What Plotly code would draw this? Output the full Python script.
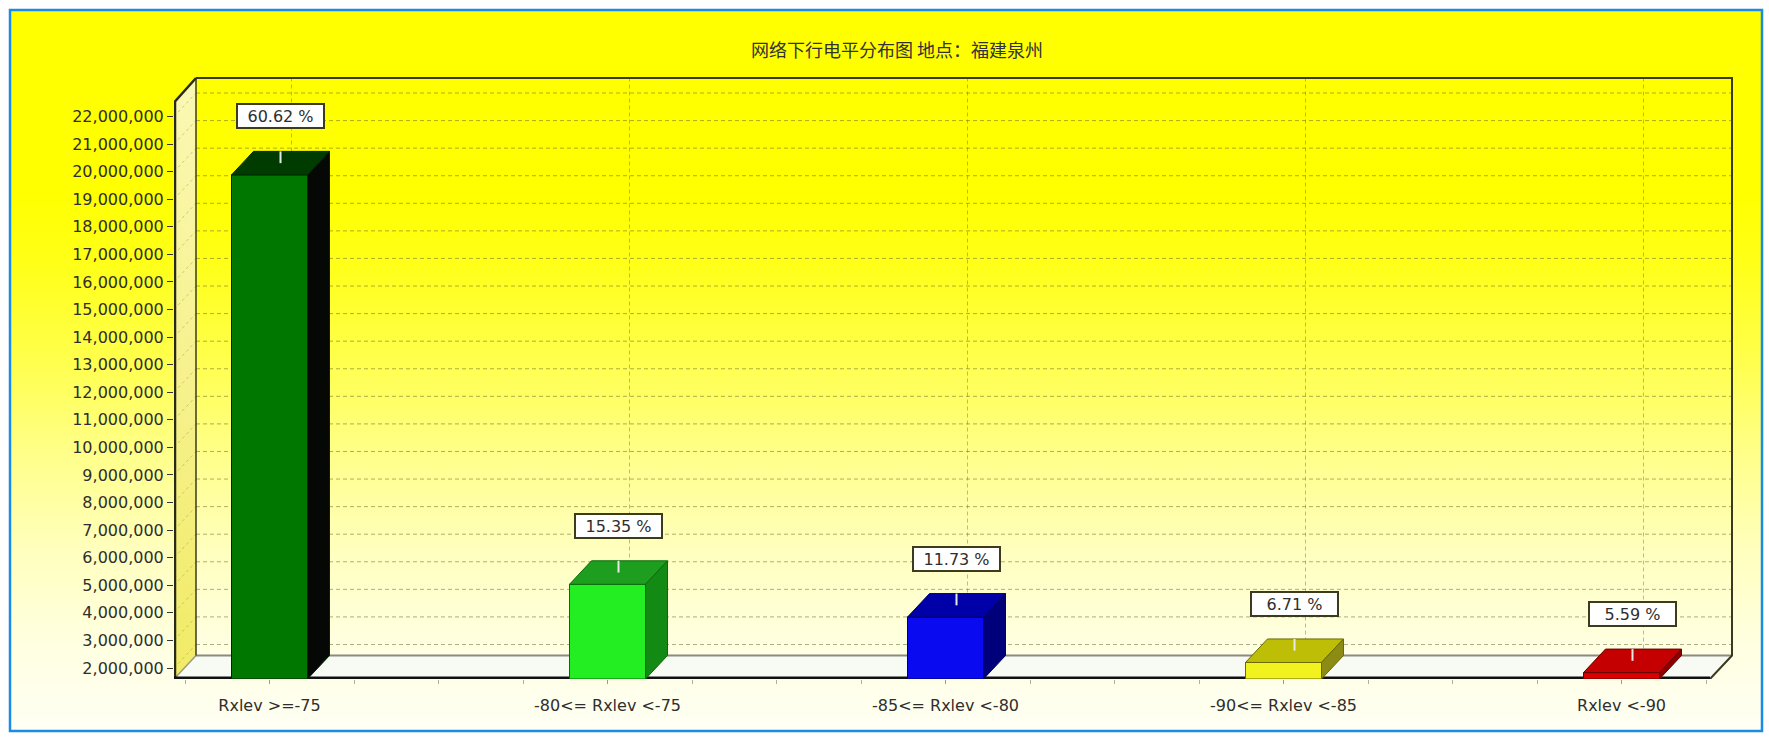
import base64
import struct
import zlib

import plotly.graph_objects as go

# ---- data -----------------------------------------------------------------
TITLE = "网络下行电平分布图 地点：福建泉州"
CATEGORIES = ["Rxlev >=-75", "-80<= Rxlev <-75", "-85<= Rxlev <-80",
              "-90<= Rxlev <-85", "Rxlev <-90"]
SAMPLE_COUNTS = [19883000, 5035000, 3847000, 2201000, 1834000]
Y_TICKS = [2000000, 3000000, 4000000, 5000000, 6000000, 7000000, 8000000,
           9000000, 10000000, 11000000, 12000000, 13000000, 14000000,
           15000000, 16000000, 17000000, 18000000, 19000000, 20000000,
           21000000, 22000000]

# ---- styles ---------------------------------------------------------------
FRONT_COLORS = ["#007800", "#22EE22", "#0A0AF0", "#F2F21E", "#D80000"]
TOP_COLORS = ["#003C00", "#1E9E1E", "#0000A8", "#BEBE06", "#C40000"]
SIDE_COLORS = ["#060806", "#138A13", "#00007A", "#8C8C14", "#8C0000"]
EDGE_COLORS = ["#002800", "#0A6A0A", "#000060", "#6A6A00", "#6A0000"]
TEXT_COLOR = "#2e2e2e"
GRID_COLOR = "rgba(110,110,40,0.55)"
FRAME_COLOR = "#3a3a22"

W, H = 1769, 741

# pixel geometry of the 3-D box
BOX_LEFT_PX, BOX_RIGHT_PX = 174, 1732
BOX_TOP_PX, FLOOR_PX = 78, 679
DEPTH_X_PX, DEPTH_Y_PX = 22, 23.5
CAT_PITCH_PX, CAT0_PX = 338, 269.5
PX_PER_MILLION, REF_VALUE, REF_PX = 27.575, 2_000_000, 668
BAR_WIDTH_PX = 76
PAD = 3


def x_of(px):
    return (px - CAT0_PX) / CAT_PITCH_PX


def y_of(py):
    return REF_VALUE + (REF_PX - py) / PX_PER_MILLION * 1e6


XL, XR = x_of(BOX_LEFT_PX), x_of(BOX_RIGHT_PX)
YB, YT = y_of(FLOOR_PX), y_of(BOX_TOP_PX)
DX = DEPTH_X_PX / CAT_PITCH_PX
DY = DEPTH_Y_PX / PX_PER_MILLION * 1e6
BW = BAR_WIDTH_PX / CAT_PITCH_PX


def gradient_png(stops, height=256):
    """1-px wide vertical gradient PNG as a data URI."""
    raw = bytearray()
    for j in range(height):
        t = j / (height - 1)
        for k in range(len(stops) - 1):
            t0, c0 = stops[k]
            t1, c1 = stops[k + 1]
            if t0 <= t <= t1:
                f = 0 if t1 == t0 else (t - t0) / (t1 - t0)
                rgb = [round(a + (b - a) * f) for a, b in zip(c0, c1)]
                break
        raw += b"\x00" + bytes(rgb)

    def chunk(tag, data):
        return (struct.pack(">I", len(data)) + tag + data
                + struct.pack(">I", zlib.crc32(tag + data) & 0xFFFFFFFF))

    png = (b"\x89PNG\r\n\x1a\n"
           + chunk(b"IHDR", struct.pack(">IIBBBBB", 1, height, 8, 2, 0, 0, 0))
           + chunk(b"IDAT", zlib.compress(bytes(raw), 9))
           + chunk(b"IEND", b""))
    return "data:image/png;base64," + base64.b64encode(png).decode()


BG_STOPS = [(0.0, (255, 255, 0)), (0.25, (255, 255, 0)), (0.35, (255, 255, 25)),
            (0.48, (255, 255, 75)), (0.62, (255, 255, 140)),
            (0.75, (255, 255, 190)), (0.88, (255, 255, 225)),
            (1.0, (255, 255, 244))]

fig = go.Figure()


def poly(xs, ys, fill, line_color=None, line_width=0, **kw):
    fig.add_trace(go.Scatter(
        x=xs + [xs[0]], y=ys + [ys[0]], mode="lines", fill="toself",
        fillcolor=fill, hoverinfo="skip",
        line=dict(color=line_color or fill, width=line_width), **kw))


def lines(xs, ys, color, width, dash="solid"):
    fig.add_trace(go.Scatter(x=xs, y=ys, mode="lines", hoverinfo="skip",
                             line=dict(color=color, width=width, dash=dash)))


# left side wall
fig.add_trace(go.Scatter(
    x=[XL, XL, XL + DX, XL + DX, XL], y=[YB, YT - DY, YT, YB + DY, YB],
    mode="lines", fill="toself", hoverinfo="skip", line=dict(width=0),
    fillgradient=dict(type="vertical", start=YB, stop=YT,
                      colorscale=[[0, "#F1EB66"], [1, "#FBF8B4"]])))

# floor
poly([XL, XR - DX, XR, XL + DX], [YB, YB, YB + DY, YB + DY], "#F8FAF4")

# grid on back wall and side wall
gx, gy, sx, sy = [], [], [], []
for v in Y_TICKS:
    gx += [XL + DX, XR, None]
    gy += [v + DY, v + DY, None]
    sx += [XL, XL + DX, None]
    sy += [v, v + DY, None]
lines(gx, gy, GRID_COLOR, 1, "4px,3px")
lines(sx, sy, "rgba(150,150,60,0.45)", 1, "3px,3px")
vx, vy = [], []
for i in range(len(CATEGORIES)):
    vx += [i + DX, i + DX, None]
    vy += [YB + DY, YT, None]
lines(vx, vy, "rgba(110,110,40,0.45)", 1, "4px,3px")

# frame
lines([XL + DX, XR], [YB + DY, YB + DY], "#8a8a80", 2)
lines([XL, XL + DX], [YB, YB + DY], "#9a9a80", 1.5)
lines([XL + DX, XL + DX], [YB + DY, YT], FRAME_COLOR, 1.5)
lines([XL + DX, XR, XR, XR - DX], [YT, YT, YB + DY, YB], FRAME_COLOR, 2)
lines([x_of(BOX_LEFT_PX + 1)] * 2 + [XL + DX], [YB, YT - DY, YT], "#2a2a1a", 2.5)
lines([XL, XR - DX], [y_of(FLOOR_PX - 1)] * 2, "#111111", 3)

# bars drawn as front / top / side faces
for i, v in enumerate(SAMPLE_COUNTS):
    l, r = i - BW / 2, i + BW / 2
    poly([l, r, r, l], [YB, YB, v, v], FRONT_COLORS[i], EDGE_COLORS[i], 1)
    poly([l, r, r + DX, l + DX], [v, v, v + DY, v + DY],
         TOP_COLORS[i], EDGE_COLORS[i], 1)
    poly([r, r + DX, r + DX, r], [YB, YB + DY, v + DY, v],
         SIDE_COLORS[i], EDGE_COLORS[i], 1)
    lines([i + DX / 2, i + DX / 2], [v + DY / 2, v + DY], "#E8E8E8", 2)

total = sum(SAMPLE_COUNTS)
for i, v in enumerate(SAMPLE_COUNTS):
    fig.add_annotation(
        x=i + DX / 2, y=v + DY, yshift=35, showarrow=False,
        text=f"{v / total * 100:.2f} %", width=81, height=18,
        font=dict(family="DejaVu Sans", size=16, color=TEXT_COLOR),
        bgcolor="white", bordercolor="#3c3c1c", borderwidth=2, borderpad=2)

fig.update_layout(
    width=W, height=H, margin=dict(l=0, r=0, t=0, b=0),
    paper_bgcolor="white", plot_bgcolor="rgba(0,0,0,0)", showlegend=False,
    title=dict(text=TITLE, x=897 / W, xanchor="center", y=1 - 51 / H,
               yanchor="middle",
               font=dict(family="Noto Sans CJK SC", size=18, color="#333333")),
    images=[dict(source=gradient_png(BG_STOPS), xref="paper", yref="paper",
                 x=11 / W, y=1 - 11 / H, sizex=(1762 - 11) / W,
                 sizey=(731 - 11) / H, xanchor="left", yanchor="top",
                 sizing="stretch", layer="below")],
    shapes=[dict(type="rect", xref="paper", yref="paper",
                 x0=10 / W, x1=1762 / W, y0=1 - 731 / H, y1=1 - 10 / H,
                 line=dict(color="#1A8CE6", width=2.5), layer="above")],
    xaxis=dict(range=[XL, x_of(BOX_RIGHT_PX + PAD)],
               domain=[BOX_LEFT_PX / W, (BOX_RIGHT_PX + PAD) / W],
               tickvals=list(range(len(CATEGORIES))), ticktext=CATEGORIES,
               ticks="outside", ticklen=4, tickcolor="#9a9a9a",
               minor=dict(ticks="outside", dtick=0.25, tick0=0, ticklen=4,
                          tickcolor="#b0b0a0"),
               showgrid=False, zeroline=False, showline=False,
               ticklabelstandoff=8, fixedrange=True,
               tickfont=dict(family="DejaVu Sans", size=16, color=TEXT_COLOR)),
    yaxis=dict(range=[YB, y_of(BOX_TOP_PX - PAD)],
               domain=[1 - FLOOR_PX / H, 1 - (BOX_TOP_PX - PAD) / H],
               tickvals=Y_TICKS, tickformat=",d", ticks="outside", ticklen=6,
               tickcolor="#333333", showgrid=False, zeroline=False,
               showline=False, fixedrange=True,
               tickfont=dict(family="DejaVu Sans", size=16, color=TEXT_COLOR)),
)

fig.write_html("out.html")
